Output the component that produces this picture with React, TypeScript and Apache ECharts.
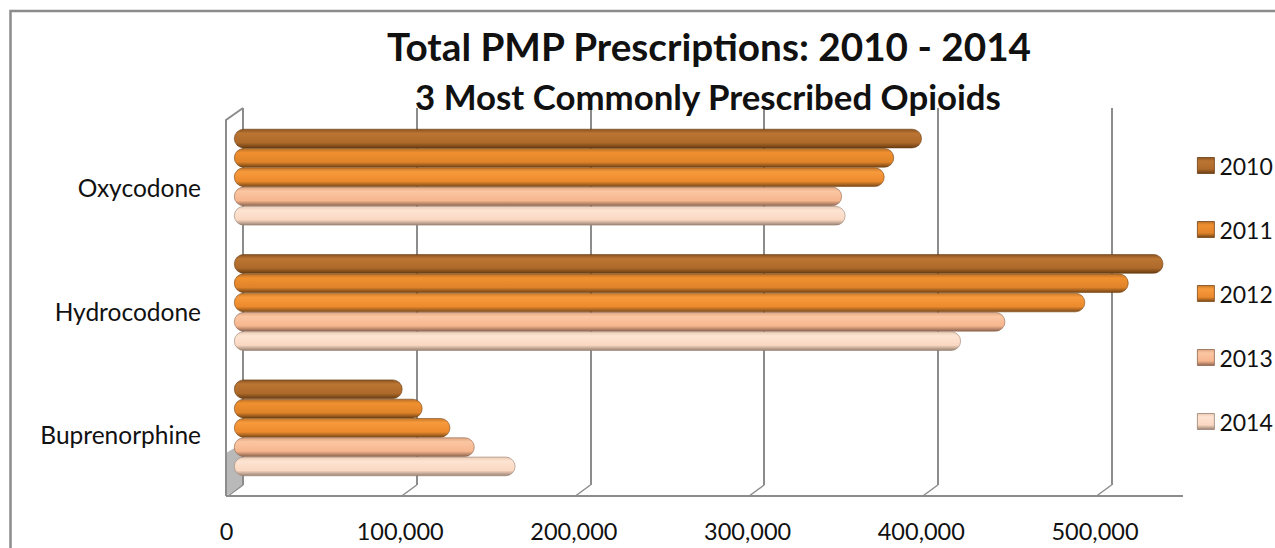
import React, { useEffect, useRef } from "react";
import * as echarts from "echarts";

const categories = ["Oxycodone", "Hydrocodone", "Buprenorphine"];
const years = ["2010", "2011", "2012", "2013", "2014"];
const values2010 = [396000, 535000, 97000];
const values2011 = [380000, 515000, 108500];
const values2012 = [374500, 490000, 124500];
const values2013 = [350000, 444000, 138500];
const values2014 = [352000, 418500, 162000];
const seriesValues = [values2010, values2011, values2012, values2013, values2014];
const tickValues = [0, 100000, 200000, 300000, 400000, 500000];
const shades = [
  ["#8a5320", "#bb7533", "#ae6a2a", "#6a3c12"],
  ["#b86f28", "#f0902f", "#e0842a", "#744414"],
  ["#c8792a", "#f79a3c", "#ec8a2d", "#7d4a18"],
  ["#dfa680", "#fbc6a2", "#f6b68e", "#8f6650"],
  ["#ecccb6", "#fde4d2", "#fad8c2", "#9a8272"],
];
const FONT = "Lato";
const GREY = "#8c8c8c";
const AXIS_MAX = 550000;
const PX_PER_UNIT = 173.7 / 100000;
const plotW = AXIS_MAX * PX_PER_UNIT;

const grad = (s: string[]) =>
  new echarts.graphic.LinearGradient(0, 0, 0, 1, [
    { offset: 0, color: s[0] },
    { offset: 0.22, color: s[1] },
    { offset: 0.72, color: s[2] },
    { offset: 1, color: s[3] },
  ]);

export default function App() {
  const ref = useRef<HTMLDivElement>(null);
  useEffect(() => {
    document.body.style.margin = "0";
    const chart = echarts.init(ref.current!, undefined, { renderer: "svg" });
    const valueAxisBase = { type: "value", min: 0, max: AXIS_MAX, interval: 100000 };
    const hiddenCat = { type: "category", data: categories, inverse: true, axisLine: { show: false }, axisTick: { show: false }, axisLabel: { show: false } };
    chart.setOption({
      animation: false,
      backgroundColor: "#ffffff",
      title: [
        { text: "Total PMP Prescriptions: 2010 - 2014", left: 704, top: 21, textAlign: "center", textStyle: { fontFamily: FONT, fontSize: 38.7, fontWeight: "bold", color: "#111" } },
        { text: "3 Most Commonly Prescribed Opioids", left: 703, top: 74, textAlign: "center", textStyle: { fontFamily: FONT, fontSize: 34.8, fontWeight: "bold", color: "#111" } },
      ],
      legend: {
        orient: "vertical", left: 1192, top: 149, icon: "rect", itemWidth: 17, itemHeight: 16, itemGap: 41,
        data: years.map((y, i) => ({ name: y, itemStyle: { color: grad(shades[i]), borderColor: shades[i][3], borderWidth: 0.8 } })),
        textStyle: { fontFamily: FONT, fontSize: 23, color: "#111" },
      },
      grid: [
        { left: 243, top: 108, width: plotW, height: 377 },
        { left: 234, top: 114.5, width: plotW, height: 376 },
        { left: 226.5, top: 126, width: plotW, height: 370 },
      ],
      xAxis: [
        { ...valueAxisBase, gridIndex: 0, axisLine: { show: false }, axisTick: { show: false }, axisLabel: { show: false }, splitLine: { show: true, showMaxLine: false, lineStyle: { color: GREY, width: 2 } } },
        { ...valueAxisBase, gridIndex: 1, axisLine: { show: false }, axisTick: { show: false }, axisLabel: { show: false }, splitLine: { show: false } },
        {
          ...valueAxisBase, gridIndex: 2, position: "bottom",
          axisLine: { show: false }, axisTick: { show: false }, splitLine: { show: false },
          axisLabel: { margin: 23, showMaxLabel: false, alignMinLabel: "center", fontFamily: FONT, fontSize: 23.5, color: "#111", formatter: (v: number) => v.toLocaleString("en-US") },
        },
      ],
      yAxis: [
        { ...hiddenCat, gridIndex: 0 },
        { ...hiddenCat, gridIndex: 1 },
        { ...hiddenCat, gridIndex: 2, axisLabel: { show: true, margin: 25.5, fontFamily: FONT, fontSize: 24.5, color: "#111" } },
      ],
      series: years.map((y, i) => ({
        name: y, type: "bar", xAxisIndex: 1, yAxisIndex: 1, data: seriesValues[i],
        barWidth: 19.3, barGap: "0%",
        itemStyle: { color: grad(shades[i]), borderRadius: 9.5, borderColor: shades[i][3], borderWidth: 0.6 },
      })),
      graphic: [
        { type: "polygon", z: 0, shape: { points: [[226, 496], [243, 485], [243, 443], [226, 453]] }, style: { fill: "#b9b9b9" } },
        { type: "polyline", z: 1, shape: { points: [[226, 496], [226, 120], [243, 108]] }, style: { stroke: GREY, lineWidth: 2, fill: "none" } },
        { type: "line", z: 1, shape: { x1: 226, y1: 496, x2: 1183, y2: 496 }, style: { stroke: GREY, lineWidth: 2 } },
        ...tickValues.map((v) => ({
          type: "line", z: 1,
          shape: { x1: 243 + v * PX_PER_UNIT, y1: 485, x2: 243 + v * PX_PER_UNIT - 15, y2: 496 },
          style: { stroke: GREY, lineWidth: 1.5 },
        })),
        { type: "polyline", z: 1, shape: { points: [[10.5, 560], [10.5, 11], [1280, 11]] }, style: { stroke: GREY, lineWidth: 2.5, fill: "none" } },
      ],
    });
    return () => chart.dispose();
  }, []);
  return <div ref={ref} style={{ width: 1275, height: 548 }} />;
}
